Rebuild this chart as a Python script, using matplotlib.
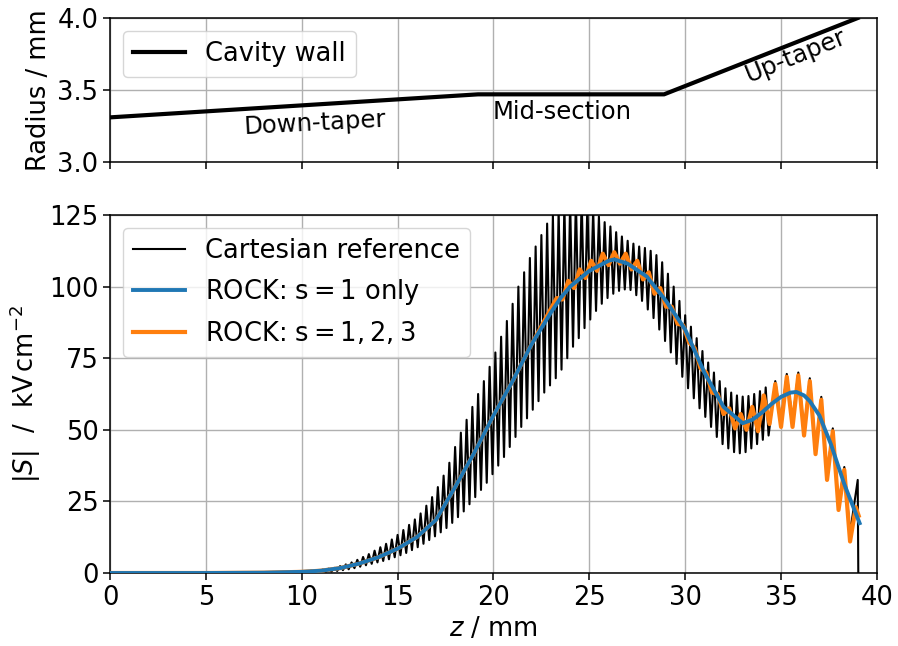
import numpy as np
import matplotlib
matplotlib.use("Agg")
import matplotlib.pyplot as plt

# cavity wall profile
wall_z = [0.0, 19.2, 28.9, 39.0]
wall_r = [3.31, 3.47, 3.47, 4.0]

# ROCK, s = 1 only (smooth curve)
blue_z = [0, 5, 8, 10, 11, 12, 13, 14, 15, 16, 17, 18, 19, 20, 21, 22, 23, 23.5,
          24, 25, 26, 26.3, 27, 28, 29, 30, 31, 32, 33, 33.5, 34, 34.5, 35, 35.5,
          35.8, 36.2, 36.5, 37, 37.6, 38.3, 39.1]
blue_s = [0, 0, 0.1, 0.4, 0.8, 1.7, 3.3, 5.5, 8.5, 12.5, 18.5, 30, 42, 55, 67, 80, 91, 96,
          100, 105.5, 109, 109.5, 108, 103.5, 95, 85, 70, 58, 52.3, 53.5, 56, 59, 61.5, 63,
          63.2, 62, 60, 55, 45, 31, 17.4]

# Cartesian reference: peaks / troughs of the fast ripple (0.3 mm) up to z~34.3
cart_hi_a = [0.8, 1.0, 1.2, 1.5, 1.8, 2.4, 3.0, 3.7, 4.6, 5.6,
             6.6, 7.8, 9.0, 10.2, 11.7, 13.3, 15.0, 16.8, 18.7, 20.8,
             23.5, 26.5, 30, 34, 38.5, 44, 49, 53.5, 58, 62.5,
             67, 72, 77, 82.5, 88, 94, 100, 105, 110, 114,
             118, 122, 125, 127, 129, 130, 131, 131, 129, 127,
             124.5, 122.5, 121, 119, 117.5, 116, 115, 114, 113.5, 112.5,
             111, 108.5, 104.5, 100, 95, 90, 86, 82, 77.5, 73.5,
             70, 67, 64.5, 63, 62, 61.6, 61.8, 62.5, 63.5, 64.8]
cart_lo_a = [0.2, 0.3, 0.4, 0.5, 0.7, 1.0, 1.3, 1.7, 2.2, 2.7,
             3.2, 3.7, 4.2, 4.8, 5.5, 6.2, 7.0, 8.0, 9.0, 10.2,
             11.5, 12.8, 14.2, 15.7, 17.5, 19.5, 21.5, 24, 26.5, 29,
             31.5, 34.5, 37.5, 40.5, 44, 47.5, 51, 54, 57, 60,
             63, 65.5, 68, 71, 75, 79, 82, 85.5, 88.5, 91.5,
             94, 96, 97.5, 98.5, 99, 98.8, 97, 95, 92, 89,
             85, 81, 77, 73, 68.5, 64.5, 61, 57.5, 54.5, 51,
             47.5, 45, 43.5, 42.2, 41.8, 42.2, 43.5, 45, 46.5, 48]
# beyond z~34.5 the reference follows the slower ripple of s = 1,2,3
cart_hi_b = [67, 69.5, 70, 68, 61.5, 50.5, 37]
cart_lo_b = [53, 53, 50, 43.5, 34.5, 24, 14]
cart_end_z = [0.0, 10.2, 39.0, 39.03]
cart_end_s = [0.0, 0.3, 32.5, 0.0]

# ROCK, s = 1,2,3: peaks / troughs of the slow ripple (0.6 mm) from z~23
orng_hi = [96, 102, 106, 109, 111.5, 112, 111.5, 109, 105, 99.5,
           93, 86.5, 78.5, 70, 62.5, 57.5, 55.5, 58, 62, 66,
           68.5, 69, 67, 60.5, 49.5, 36, 23]
orng_lo = [95.5, 99.5, 103, 105.5, 107.5, 108, 106, 102.5, 97.5, 93,
           87, 80.5, 71.5, 63, 55.5, 50.5, 50, 49.5, 52, 51,
           51, 48, 41.5, 32.5, 22, 11]
orng_end_z = [39.05]
orng_end_s = [20]


def weave(parts):
    z = np.concatenate([p[0] for p in parts])
    s = np.concatenate([p[1] for p in parts])
    idx = np.argsort(z, kind="stable")
    return z[idx], s[idx]


cz, cs = weave([
    (10.5 + 0.3 * np.arange(len(cart_hi_a)), np.array(cart_hi_a)),
    (10.65 + 0.3 * np.arange(len(cart_lo_a)), np.array(cart_lo_a)),
    (34.7 + 0.6 * np.arange(len(cart_hi_b)), np.array(cart_hi_b)),
    (35.0 + 0.6 * np.arange(len(cart_lo_b)), np.array(cart_lo_b)),
    (np.array(cart_end_z), np.array(cart_end_s)),
])

bz = np.array(blue_z, dtype=float)
bs = np.array(blue_s, dtype=float)
oz, os_ = weave([
    (bz[bz < 23], bs[bz < 23]),
    (23.3 + 0.6 * np.arange(len(orng_hi)), np.array(orng_hi)),
    (23.6 + 0.6 * np.arange(len(orng_lo)), np.array(orng_lo)),
    (np.array(orng_end_z), np.array(orng_end_s)),
])

plt.rcParams['font.size'] = 18.5
plt.rcParams['axes.linewidth'] = 1.1
plt.rcParams['grid.linewidth'] = 1.0
for a in ('xtick', 'ytick'):
    plt.rcParams[a + '.major.size'] = 4.8
    plt.rcParams[a + '.major.width'] = 1.1

fig = plt.figure(figsize=(8.98, 6.46), dpi=100)
ax1 = fig.add_axes([0.1225, 0.7492, 0.854, 0.2229])
ax2 = fig.add_axes([0.1225, 0.1130, 0.854, 0.5542])

ax1.plot(wall_z, wall_r, color="k", lw=3, label="Cavity wall")
ax1.set_xlim(0, 40)
ax1.set_ylim(3.0, 4.0)
ax1.set_yticks([3.0, 3.5, 4.0])
ax1.set_xticks(range(0, 41, 5))
ax1.set_xticklabels([])
ax1.grid(True)
ax1.set_ylabel("Radius / mm")
ax1.legend(loc="upper left")
ax1.text(10.7, 3.27, "Down-taper", ha="center", va="center", rotation=3, fontsize=17.5)
ax1.text(23.6, 3.35, "Mid-section", ha="center", va="center", fontsize=17.5)
ax1.text(35.8, 3.74, "Up-taper", ha="center", va="center", rotation=22, fontsize=17.5)

ax2.plot(cz, cs, color="k", lw=1.5, label="Cartesian reference")
ax2.plot(oz, os_, color="tab:orange", lw=3, label=r"ROCK: $\mathrm{s} = 1, 2, 3$", zorder=3)
ax2.plot(bz, bs, color="tab:blue", lw=2.8, label=r"ROCK: $\mathrm{s} = 1$ only", zorder=4)
ax2.set_xlim(0, 40)
ax2.set_ylim(0, 125)
ax2.set_yticks(range(0, 126, 25))
ax2.set_xticks(range(0, 41, 5))
ax2.grid(True)
ax2.set_xlabel(r"$z$ / mm")
ax2.set_ylabel(r"$|S|$  /  kV$\,$cm$^{-2}$")
h, l = ax2.get_legend_handles_labels()
ax2.legend([h[0], h[2], h[1]], [l[0], l[2], l[1]], loc="upper left")

fig.align_ylabels([ax1, ax2])
fig.savefig("out.png", dpi=100)
